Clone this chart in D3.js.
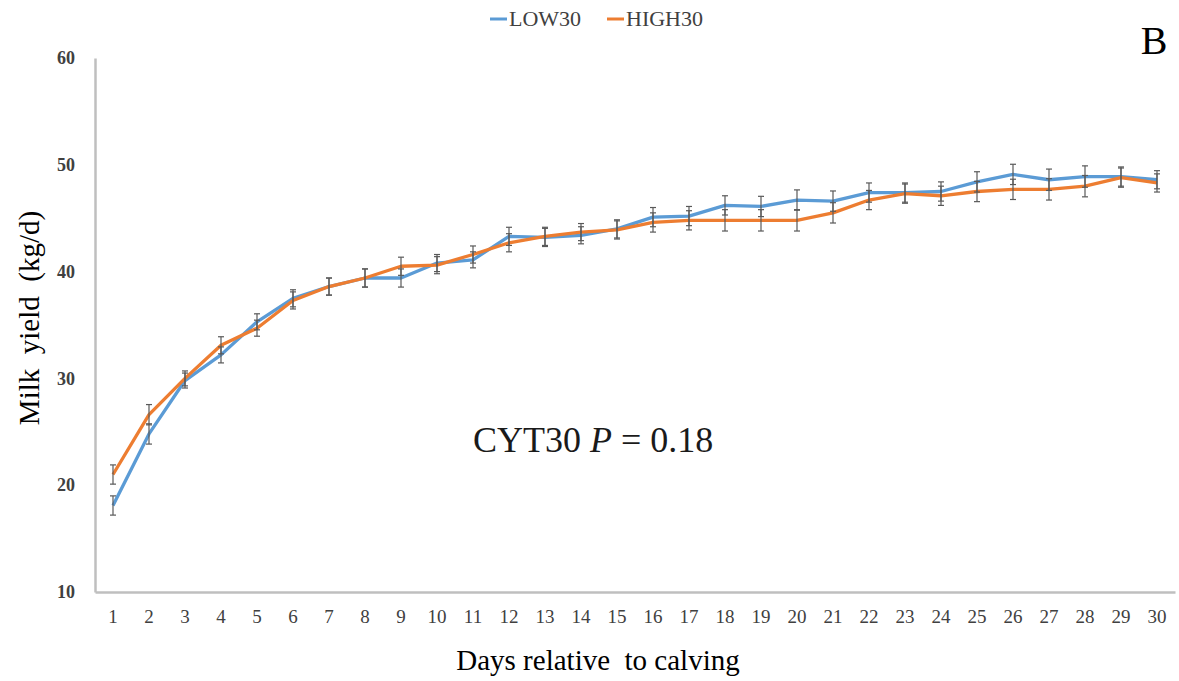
<!DOCTYPE html>
<html>
<head>
<meta charset="utf-8">
<script src="https://cdn.jsdelivr.net/npm/d3@7"></script>
<style>
  body { margin: 0; background: #fff; }
  text { font-family: "Liberation Serif", "Times New Roman", serif; }
</style>
</head>
<body>
<svg id="chart" width="1179" height="681"></svg>
<script>
// days relative to calving
var days = d3.range(1, 31);

// milk yield means (kg/d)
var low30 = [18.1, 24.8, 29.8, 32.2, 35.3, 37.5, 38.6, 39.4, 39.4, 40.8,
             41.1, 43.3, 43.2, 43.4, 44.0, 45.1, 45.2, 46.2, 46.1, 46.7,
             46.6, 47.4, 47.4, 47.5, 48.4, 49.1, 48.6, 48.9, 48.9, 48.6];
var high30 = [21.0, 26.6, 30.0, 33.1, 34.7, 37.3, 38.6, 39.4, 40.5, 40.6,
              41.6, 42.7, 43.3, 43.7, 43.9, 44.6, 44.8, 44.8, 44.8, 44.8,
              45.5, 46.7, 47.3, 47.1, 47.5, 47.7, 47.7, 48.0, 48.8, 48.3];

// standard errors
var low30_se = [0.9, 0.95, 0.7, 0.75, 0.75, 0.8, 0.8, 0.85, 0.85, 0.8,
                0.75, 0.85, 0.85, 0.8, 0.85, 0.9, 0.9, 0.9, 0.95, 0.95,
                0.95, 0.9, 0.9, 0.9, 0.95, 0.95, 1.0, 1.0, 0.9, 0.85];
var high30_se = [0.9, 0.95, 0.7, 0.8, 0.75, 0.8, 0.8, 0.85, 0.85, 0.8,
                 0.8, 0.85, 0.85, 0.8, 0.85, 0.9, 0.9, 1.0, 1.0, 1.0,
                 0.95, 0.9, 0.9, 0.9, 0.95, 0.95, 1.0, 1.0, 0.9, 0.85];

var yTicks = [10, 20, 30, 40, 50, 60];

var seriesNames = ["LOW30", "HIGH30"];
var seriesColors = ["#5b9bd5", "#ed7d31"];

var svg = d3.select("#chart");

var xScale = d3.scaleBand()
    .domain(days)
    .range([95, 1175]);
var yScale = d3.scaleLinear()
    .domain([10, 60])
    .range([592, 58]);

function cx(d) { return xScale(d) + xScale.bandwidth() / 2; }

// axes
var xAxis = d3.axisBottom(xScale).tickSize(0).tickPadding(18);
var yAxis = d3.axisLeft(yScale).tickValues(yTicks).tickSize(0).tickPadding(20);

svg.append("g")
    .attr("class", "x axis")
    .attr("transform", "translate(0,592)")
    .call(xAxis);

svg.append("g")
    .attr("class", "y axis")
    .attr("transform", "translate(95,0)")
    .call(yAxis);

svg.selectAll(".axis path")
    .style("stroke", "#bfbfbf")
    .style("stroke-width", 2.5);
svg.selectAll(".x.axis text")
    .attr("font-size", "19px")
    .attr("fill", "#404040")
    .style("font-family", "'Liberation Serif', serif");
svg.selectAll(".y.axis text")
    .attr("font-size", "18px")
    .attr("font-weight", "bold")
    .attr("fill", "#404040")
    .style("font-family", "'Liberation Serif', serif");

var series = [
    {name: seriesNames[0], values: low30, se: low30_se, color: seriesColors[0]},
    {name: seriesNames[1], values: high30, se: high30_se, color: seriesColors[1]}
];

var line = d3.line()
    .x(function(d, i) { return cx(days[i]); })
    .y(function(d) { return yScale(d); });

// lines
series.forEach(function(s) {
    svg.append("path")
        .datum(s.values)
        .attr("d", line)
        .attr("fill", "none")
        .attr("stroke", s.color)
        .attr("stroke-width", 3.3)
        .attr("stroke-linejoin", "round");
});

// error bars
series.forEach(function(s) {
    var g = svg.append("g").attr("class", "errbars");
    var pts = s.values.map(function(v, i) { return {day: days[i], v: v, se: s.se[i]}; });
    g.selectAll("line.v")
        .data(pts)
        .enter()
        .append("line")
        .attr("x1", function(d) { return cx(d.day); })
        .attr("x2", function(d) { return cx(d.day); })
        .attr("y1", function(d) { return yScale(d.v - d.se); })
        .attr("y2", function(d) { return yScale(d.v + d.se); })
        .style("stroke", "#595959")
        .style("stroke-width", 1.2);
    [1, -1].forEach(function(sign) {
        g.selectAll("line.cap" + sign)
            .data(pts)
            .enter()
            .append("line")
            .attr("x1", function(d) { return cx(d.day) - 3; })
            .attr("x2", function(d) { return cx(d.day) + 3; })
            .attr("y1", function(d) { return yScale(d.v + sign * d.se); })
            .attr("y2", function(d) { return yScale(d.v + sign * d.se); })
            .style("stroke", "#595959")
            .style("stroke-width", 1.2);
    });
});

// legend
var legend = svg.append("g").attr("class", "legend");
var legendX = [490, 607];
series.forEach(function(s, i) {
    legend.append("line")
        .attr("x1", legendX[i])
        .attr("x2", legendX[i] + 17)
        .attr("y1", 19)
        .attr("y2", 19)
        .style("stroke", s.color)
        .style("stroke-width", 3);
    legend.append("text")
        .attr("x", legendX[i] + 19)
        .attr("y", 26)
        .attr("font-size", "22px")
        .attr("fill", "#404040")
        .text(s.name);
});

// panel letter
svg.append("text")
    .attr("x", 1154)
    .attr("y", 54)
    .attr("text-anchor", "middle")
    .attr("font-size", "40px")
    .attr("fill", "#000")
    .text("B");

// axis titles
svg.append("text")
    .attr("class", "x label")
    .attr("text-anchor", "middle")
    .attr("x", 598)
    .attr("y", 670)
    .attr("font-size", "29px")
    .style("white-space", "pre")
    .text("Days relative  to calving");

svg.append("text")
    .attr("class", "y label")
    .attr("text-anchor", "middle")
    .attr("transform", "translate(39,318) rotate(-90)")
    .attr("font-size", "29px")
    .style("white-space", "pre")
    .text("Milk  yield  (kg/d)");

// annotation
var note = svg.append("text")
    .attr("x", 473)
    .attr("y", 452)
    .attr("font-size", "36px")
    .attr("fill", "#1a1a1a");
note.append("tspan").text("CYT30 ");
note.append("tspan").attr("font-style", "italic").text("P");
note.append("tspan").text(" = 0.18");
</script>
</body>
</html>
